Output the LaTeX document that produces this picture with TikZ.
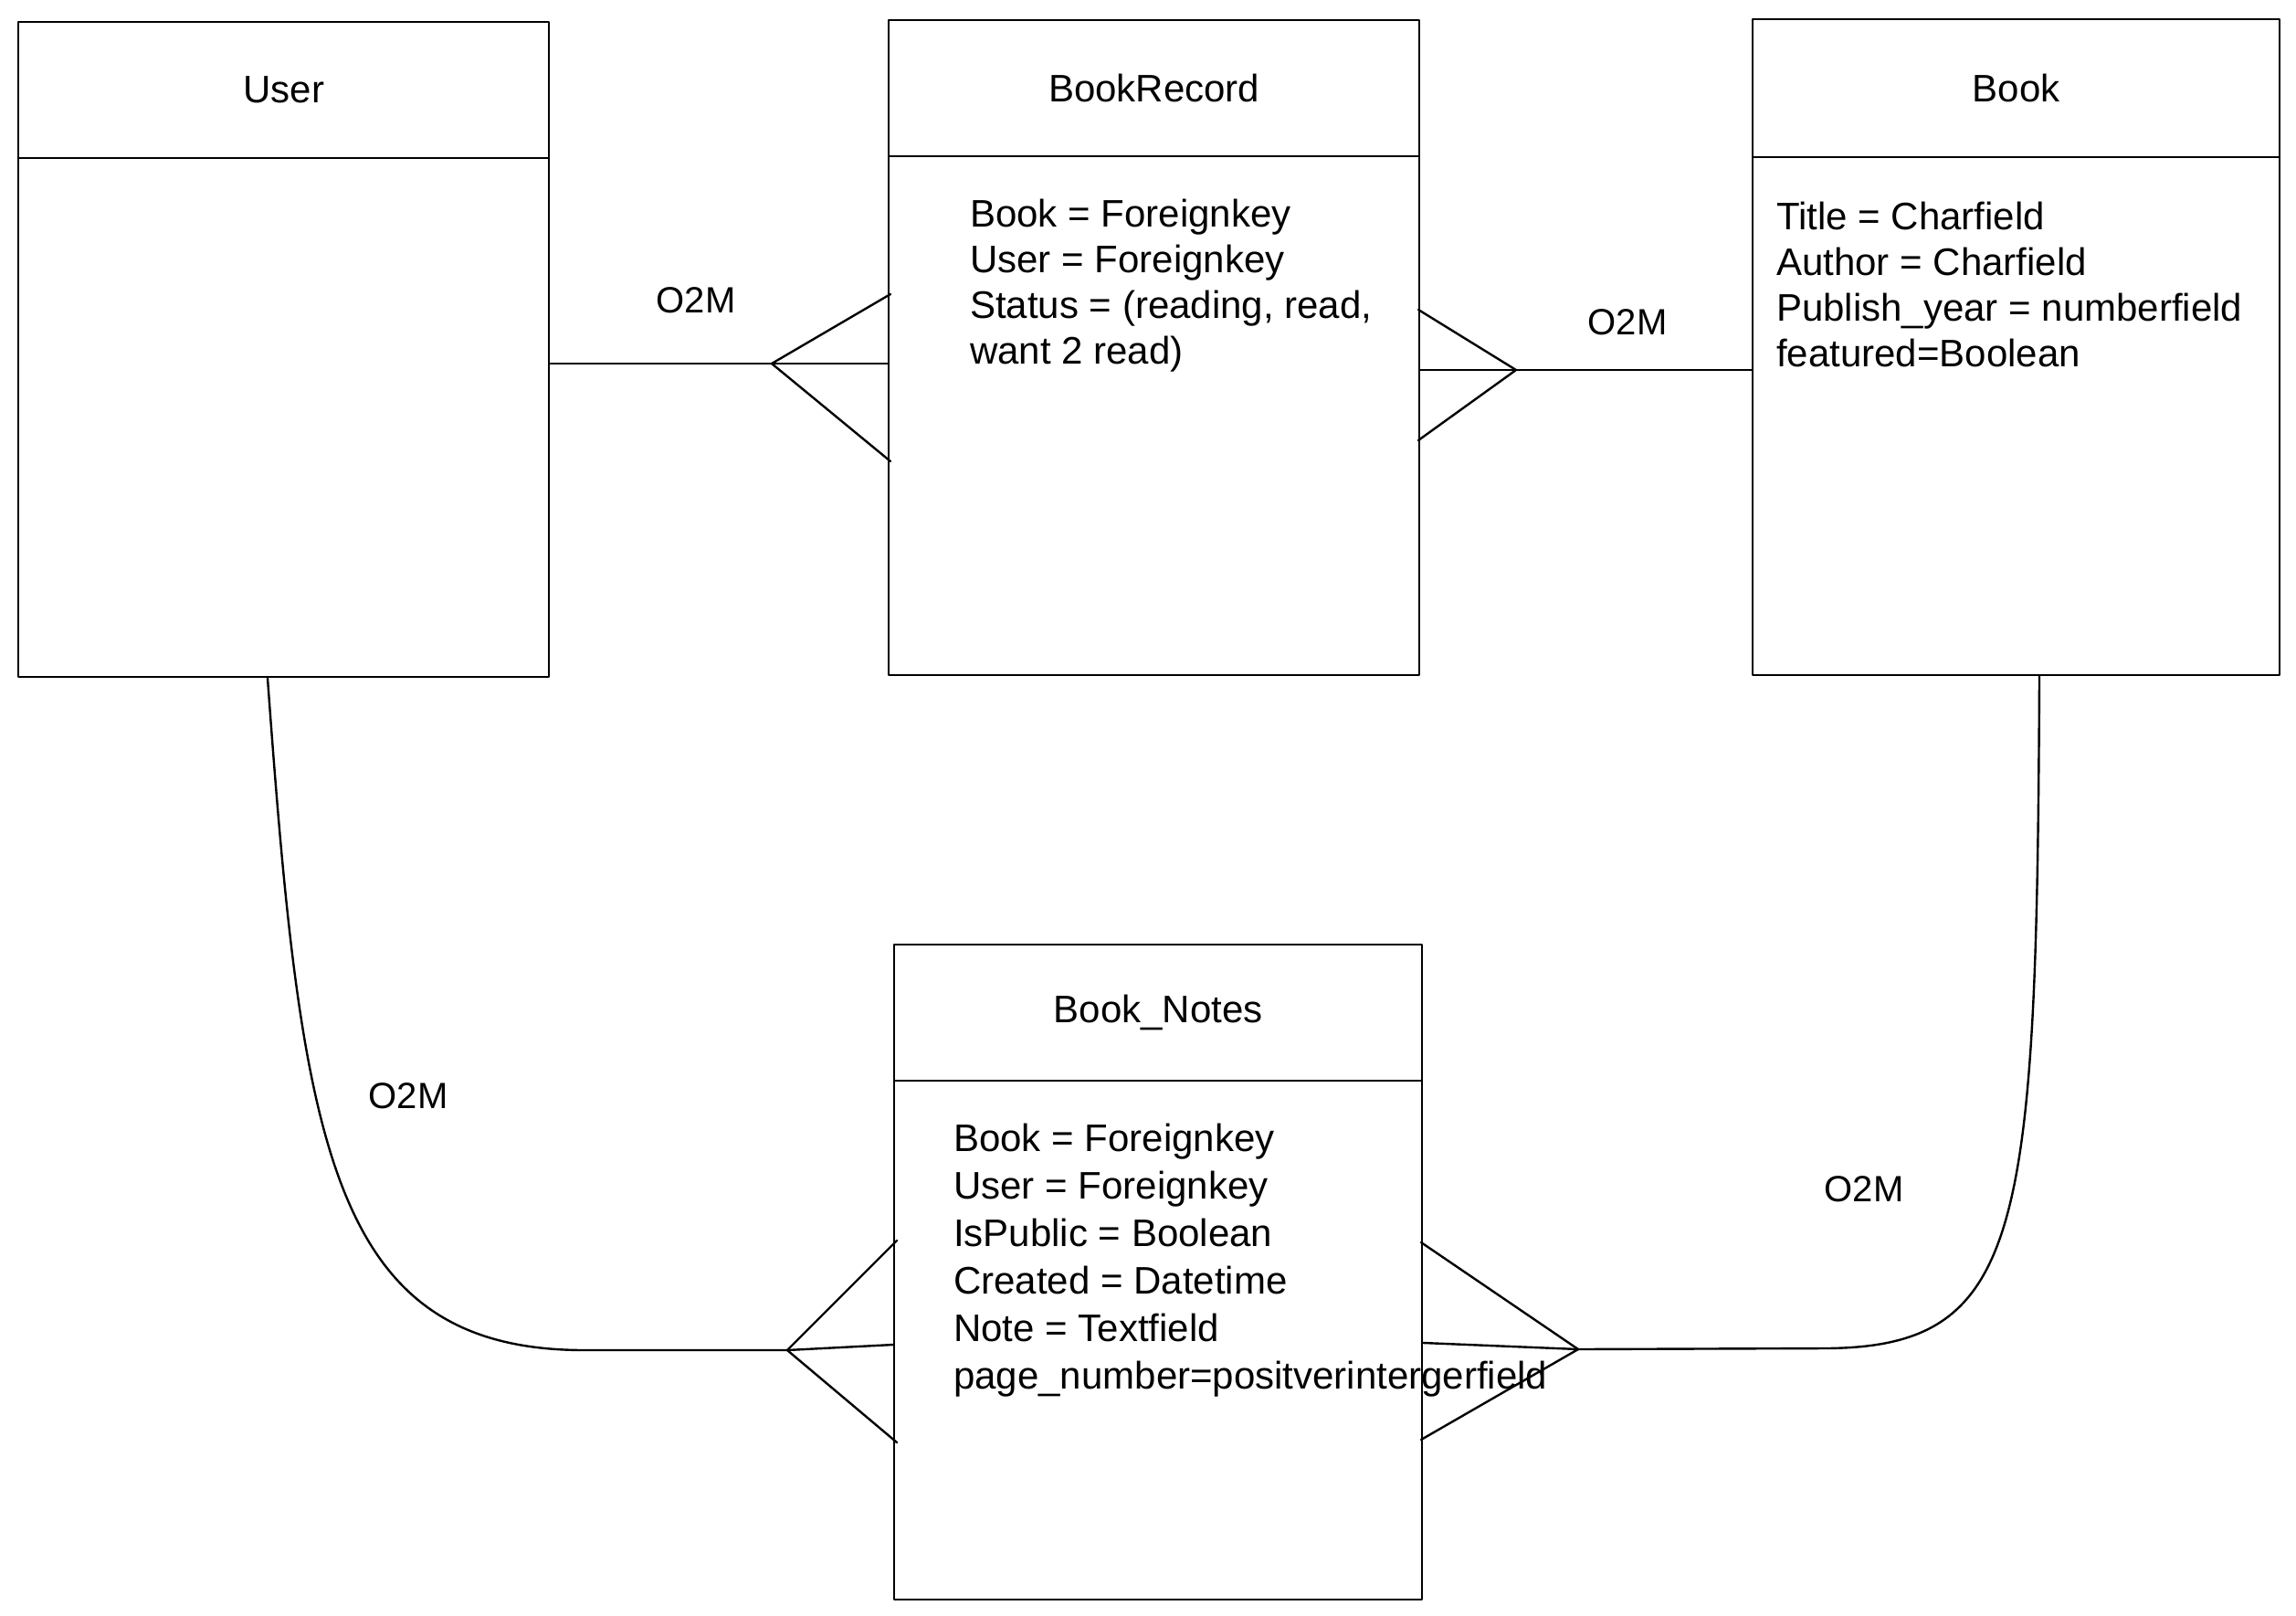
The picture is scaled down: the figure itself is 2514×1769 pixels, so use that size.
\documentclass[tikz,border=0pt]{standalone}
\usepackage{fontspec}
\setmainfont{Liberation Sans}
\begin{document}
\begin{tikzpicture}[x=1pt,y=-1pt,
  ln/.style={line width=2.4pt,line join=round,line cap=round},
  hdr/.style={ln,draw,rectangle,inner sep=0pt,anchor=north west,font=\fontsize{42}{48}\selectfont},
  bdy/.style={ln,draw,rectangle,inner sep=0pt,anchor=north west},
  fld/.style={anchor=north west,inner sep=0pt,align=left,font=\fontsize{42}{50}\selectfont},
  fldb/.style={fld,font=\fontsize{42}{52}\selectfont},
  lbl/.style={inner sep=0pt,font=\fontsize{40}{44}\selectfont}]
\useasboundingbox[fill=white] (0,0) rectangle (2514,1769);

% User
\node[hdr,minimum width=581pt,minimum height=149pt] (userh) at (19,23) {User};
\node[bdy,minimum width=581pt,minimum height=568pt] (userb) at (19,172) {};

% BookRecord
\node[hdr,minimum width=581pt,minimum height=149pt] (brh) at (972,21) {BookRecord};
\node[bdy,minimum width=581pt,minimum height=568pt] (brb) at (972,170) {};
\node[fld] (brf) at (1062,218) {Book = Foreignkey\\User = Foreignkey\\Status = (reading, read,\\want 2 read)};

% Book
\node[hdr,minimum width=577pt,minimum height=151pt] (bkh) at (1918,20) {Book};
\node[bdy,minimum width=577pt,minimum height=567pt] (bkb) at (1918,171) {};
\node[fld] (bkf) at (1945,221) {Title = Charfield\\Author = Charfield\\Publish\_year = numberfield\\featured=Boolean};

% Book_Notes
\node[hdr,minimum width=578pt,minimum height=149pt] (bnh) at (978,1033) {Book\_Notes};
\node[bdy,minimum width=578pt,minimum height=568pt] (bnb) at (978,1182) {};
\node[fldb] (bnf) at (1044,1230) {Book = Foreignkey\\User = Foreignkey\\IsPublic = Boolean\\Created = Datetime\\Note = Textfield\\page\_number=positverintergerfield};

% crow's foot vertices and prong ends
\coordinate (v1) at (845,398);
\coordinate (v1a) at (975,322);
\coordinate (v1b) at (975,505);
\coordinate (v2) at (1660,405);
\coordinate (v2a) at (1553,339);
\coordinate (v2b) at (1553,482);
\coordinate (v3) at (862,1478);
\coordinate (v3a) at (982,1358);
\coordinate (v3b) at (982,1579);
\coordinate (v4) at (1728,1477);
\coordinate (v4a) at (1556,1360);
\coordinate (v4b) at (1556,1576);

% User -- BookRecord
\draw[ln] (userb.east |- v1) -- (brb.west |- v1);
\draw[ln] (v1a) -- (v1) -- (v1b);
\node[lbl] (l1) at (762,329) {O2M};

% BookRecord -- Book
\draw[ln] (brb.east |- v2) -- (bkb.west |- v2);
\draw[ln] (v2a) -- (v2) -- (v2b);
\node[lbl] (l2) at (1782,353) {O2M};

% User -- Book_Notes
\draw[ln] (userb.south -| 293,0) .. controls (330,1250) and (360,1478) .. (640,1478) -- (v3) -- (bnb.west |- 0,1472);
\draw[ln] (v3a) -- (v3) -- (v3b);
\node[lbl] (l3) at (447,1200) {O2M};

% Book -- Book_Notes
\draw[ln] (bkb.south -| 2233,0) .. controls (2230,1350) and (2215,1474) .. (2000,1476) -- (v4) -- (bnb.east |- 0,1470);
\draw[ln] (v4a) -- (v4) -- (v4b);
\node[lbl] (l4) at (2041,1302) {O2M};
\end{tikzpicture}
\end{document}
